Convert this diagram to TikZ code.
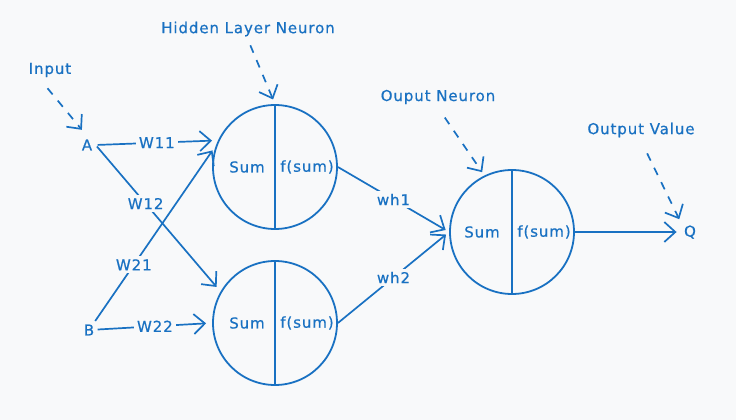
\documentclass[tikz,border=0pt]{standalone}
\usepackage{fontspec}
\setmainfont{DejaVu Sans}[LetterSpace=6, FakeBold=0.6]
\usepackage{tikz}
\usetikzlibrary{arrows.meta}
\definecolor{inkblue}{HTML}{1971C2}
\definecolor{paper}{HTML}{F8F9FA}

\begin{document}
\begin{tikzpicture}[x=1pt, y=-1pt, color=inkblue, >={Straight Barb[length=11pt, width=20pt]},
		every node/.style={font=\fontsize{15}{17}\selectfont},
		neuron/.style={circle, draw, line width=1.8pt, minimum size=124pt, inner sep=0pt},
		link/.style={->, line width=1.7pt, shorten >=6pt},
		hint/.style={->, line width=1.7pt, dash pattern=on 8pt off 8pt},
		wlabel/.style={fill=paper, inner sep=3pt}]
			\fill[paper] (0,0) rectangle (736,420);
			\useasboundingbox (0,0) rectangle (736,420);
			
			\node[neuron] (h1) at (275,167) {};
			\node[neuron] (h2) at (275,323) {};
			\node[neuron] (o) at (512,232) {};
			\node (a) at (87,145) {A};
			\node (b) at (89,330) {B};
			\node (q) at (690,232) {Q};
			\node (input) at (50,70) {Input};
			\node (hidden) at (248,29) {Hidden Layer Neuron};
			\node (ouput) at (438,97) {Ouput Neuron};
			\node (outval) at (641,130) {Output Value};
			
			\draw[line width=1.8pt] (h1.north) -- (h1.south);
			\draw[line width=1.8pt] (h2.north) -- (h2.south);
			\draw[line width=1.8pt] (o.north) -- (o.south);
			\node (h1sum) at ([xshift=-28pt]h1.center) {Sum};
			\node (h1f) at ([xshift=32pt]h1.center) {f(sum)};
			\node (h2sum) at ([xshift=-28pt]h2.center) {Sum};
			\node (h2f) at ([xshift=32pt]h2.center) {f(sum)};
			\node (osum) at ([xshift=-30pt]o.center) {Sum};
			\node (of) at ([xshift=32pt]o.center) {f(sum)};
			
			\draw[link, shorten <=2pt] (a.east) -- node[wlabel] {W11} (h1.155);
			\draw[link, shorten <=2pt] (a.east) -- node[wlabel, pos=0.4] {W12} (h2.150);
			\draw[link] (b) -- node[wlabel, pos=0.32] {W21} (h1.160);
			\draw[link] (b) -- node[wlabel] {W22} (h2.west);
			\draw[link, shorten >=4pt] (h1.east) -- node[wlabel] {wh1} (o.west);
			\draw[link, shorten >=4pt] (h2.east) -- node[wlabel] {wh2} (o.west);
			\draw[link, shorten >=4pt] (o.east) -- (q);
			
			\draw[hint, shorten <=10pt, shorten >=8pt] (input.230) -- (a.north);
			\draw[hint, shorten <=6pt, shorten >=5pt] (hidden.south) -- (h1.north);
			\draw[hint, shorten <=12pt, shorten >=4pt] (ouput.south) -- (o.116);
			\draw[hint, shorten <=14pt, shorten >=3pt] (outval.south) -- (q.north west);
		\end{tikzpicture}
\end{document}
